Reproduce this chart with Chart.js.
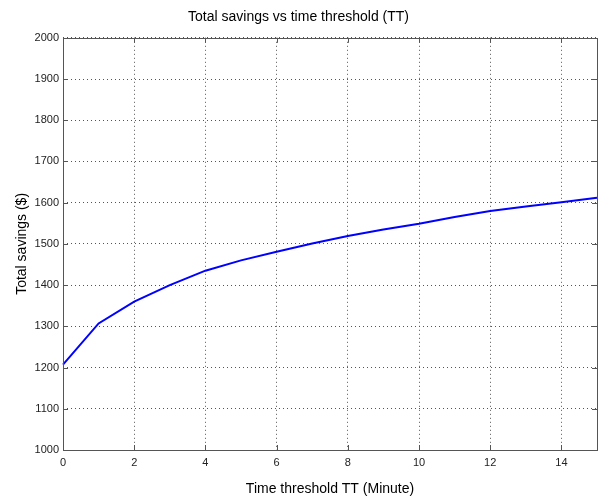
<!DOCTYPE html>
<html>
<head>
<meta charset="utf-8">
<script src="https://cdn.jsdelivr.net/npm/chart.js@4/dist/chart.umd.min.js"></script>
<style>
  html, body { margin: 0; padding: 0; background: #fff; }
  #wrap { width: 599px; height: 500px; }
</style>
</head>
<body>
<div id="wrap"><canvas id="grafico" width="599" height="500"></canvas></div>
<script>
// dados
const tempos = [0, 1, 2, 3, 4, 5, 6, 7, 8, 9, 10, 11, 12, 13, 14, 15];
const economia = [1207, 1307, 1360, 1400, 1435, 1460, 1481, 1501, 1519, 1535, 1549, 1565, 1580, 1591, 1601, 1612];
const ticksX = [0, 2, 4, 6, 8, 10, 12, 14];
const ticksY = [1000, 1100, 1200, 1300, 1400, 1500, 1600, 1700, 1800, 1900, 2000];

const fonte = "'Liberation Sans', Arial, sans-serif";

// caixa estilo MATLAB com marcas de escala para dentro
const caixa = {
    id: 'caixa',
    afterDatasetsDraw(chart) {
        const { ctx, chartArea: a, scales } = chart;
        ctx.save();
        ctx.strokeStyle = '#555';
        ctx.lineWidth = 1;
        ctx.setLineDash([]);
        ctx.beginPath();
        ticksX.forEach(v => {
            const x = Math.round(scales.x.getPixelForValue(v)) + 0.5;
            ctx.moveTo(x, a.bottom); ctx.lineTo(x, a.bottom - 5);
            ctx.moveTo(x, a.top); ctx.lineTo(x, a.top + 5);
        });
        ticksY.forEach(v => {
            const y = Math.round(scales.y.getPixelForValue(v)) + 0.5;
            ctx.moveTo(a.left, y); ctx.lineTo(a.left + 5, y);
            ctx.moveTo(a.right, y); ctx.lineTo(a.right - 5, y);
        });
        ctx.stroke();
        ctx.strokeRect(Math.round(a.left) + 0.5, Math.round(a.top) + 0.5,
            Math.round(a.right - a.left), Math.round(a.bottom - a.top));
        ctx.restore();
    }
};

new Chart(document.getElementById('grafico').getContext('2d'), {
    type: 'line',
    data: {
        datasets: [{
            data: tempos.map((t, i) => ({ x: t, y: economia[i] })),
            borderColor: '#0000ff',
            borderWidth: 2,
            pointRadius: 0,
            tension: 0,
            clip: false
        }]
    },
    options: {
        responsive: false,
        animation: false,
        layout: { padding: { left: 0, right: 2, top: 0, bottom: 0 } },
        plugins: {
            legend: { display: false },
            tooltip: { enabled: false },
            title: {
                display: true,
                text: 'Total savings vs time threshold (TT)',
                color: '#000',
                font: { family: fonte, size: 14, weight: 'normal' },
                padding: { top: 9, bottom: 12 }
            }
        },
        scales: {
            x: {
                type: 'linear',
                min: 0,
                max: 15,
                afterBuildTicks: s => { s.ticks = ticksX.map(v => ({ value: v })); },
                afterFit: s => { s.height = 50; },
                grid: { color: '#555', drawTicks: false },
                border: { display: false, dash: [1, 3] },
                ticks: {
                    color: '#222', padding: 6, font: { family: fonte, size: 11 },
                    callback: v => String(v)
                },
                title: {
                    display: true,
                    text: 'Time threshold TT (Minute)',
                    color: '#000',
                    font: { family: fonte, size: 14 },
                    padding: { top: 0, bottom: 2 }
                }
            },
            y: {
                min: 1000,
                max: 2000,
                afterBuildTicks: s => { s.ticks = ticksY.map(v => ({ value: v })); },
                afterFit: s => { s.width = 63; },
                grid: { color: '#555', drawTicks: false },
                border: { display: false, dash: [1, 3] },
                ticks: {
                    color: '#222', padding: 4, font: { family: fonte, size: 11 },
                    callback: v => String(v)
                },
                title: {
                    display: true,
                    text: 'Total savings ($)',
                    color: '#000',
                    font: { family: fonte, size: 14 },
                    padding: { top: 14, bottom: 0 }
                }
            }
        }
    },
    plugins: [caixa]
});
</script>
</body>
</html>
